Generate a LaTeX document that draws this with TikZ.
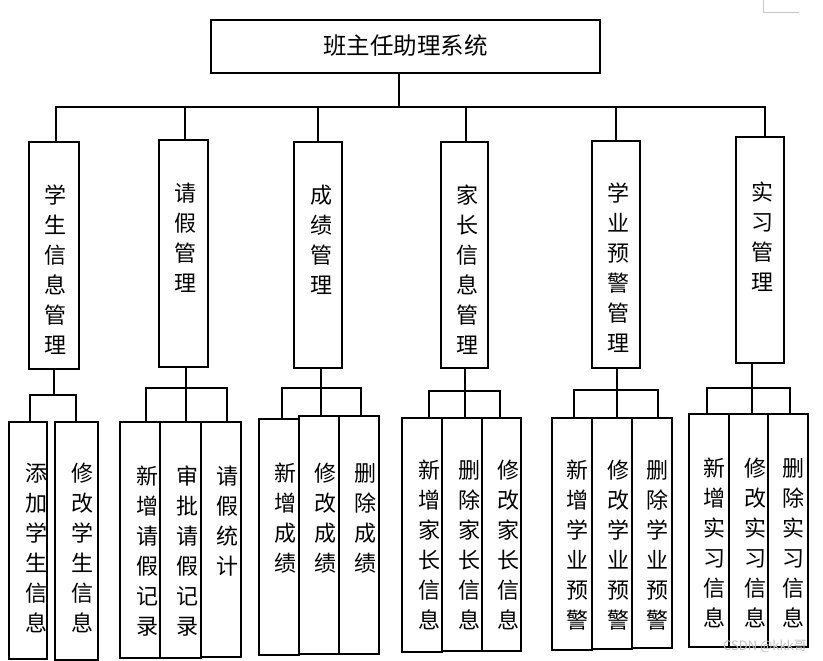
\documentclass[tikz,border=0pt]{standalone}
\usepackage{fontspec}
\newfontfamily\cjk{Noto Sans CJK SC}
\tikzset{
  box/.style={draw, line width=2.6pt, inner sep=0pt},
  conn/.style={line width=2.6pt},
  vt/.style={font=\cjk\fontsize{22}{30}\selectfont, align=center, inner sep=0pt, anchor=north},
  ttl/.style={font=\cjk\fontsize{23.5}{26}\selectfont, inner sep=0pt},
}
\newcommand\bx[5]{\node[box, minimum width=#4pt, minimum height=#5pt] (#1) at (#2,#3) {};}
\begin{document}
\begin{tikzpicture}[x=1pt,y=-1pt]
\fill[white] (0,0) rectangle (823,661);
\useasboundingbox (0,0) rectangle (823,661);
% corner mark
\coordinate (cm1) at (763,0);
\coordinate (cm2) at (763,13);
\coordinate (cm3) at (799,13);
\draw[black!22, line width=1pt] (cm1) -- (cm2) -- (cm3);
% top
\bx{top}{405.5}{46.5}{389}{53}
\node[ttl] (ttltxt) at (405.5,46) {班主任助理系统};
% level 2
\bx{a}{54}{255.5}{50}{227}
\bx{b}{183.5}{253.5}{49}{227}
\bx{c}{318}{255}{48}{226}
\bx{d}{464.5}{255}{47}{226}
\bx{e}{616}{254.5}{48}{227}
\bx{f}{760}{250}{48}{226}
% level 3
\bx{a1}{28}{540.5}{38}{237}
\bx{a2}{76.5}{541}{43}{238}
\bx{b1}{140}{540}{40}{236}
\bx{b2}{180.5}{540}{41}{236}
\bx{b3}{221}{539.5}{40}{235}
\bx{c1}{279}{537}{40}{236}
\bx{c2}{319}{535}{40}{238}
\bx{c3}{359}{535}{40}{238}
\bx{d1}{422}{535}{40}{234}
\bx{d2}{462}{534.5}{40}{233}
\bx{d3}{501.5}{534.5}{39}{233}
\bx{e1}{572}{534}{40}{232}
\bx{e2}{612}{533.5}{40}{231}
\bx{e3}{652}{533}{40}{230}
\bx{f1}{709}{530.5}{40}{233}
\bx{f2}{748.5}{530.5}{39}{233}
\bx{f3}{788}{530.5}{40}{233}
% connectors top -> level 2
\coordinate (hub) at (399,107);
\draw[conn] (top.south -| hub) -- (hub);
\draw[conn] (hub) -| ([xshift=2pt]a.north);
\draw[conn] (hub) -| ([xshift=1.5pt]b.north);
\draw[conn] (hub) -| (c.north);
\draw[conn] (hub) -| ([xshift=1.5pt]d.north);
\draw[conn] (hub) -| (e.north);
\draw[conn] (hub) -| ([xshift=5pt]f.north);
% group hubs
\coordinate (ga) at (54,395);
\coordinate (gb) at (186,388);
\coordinate (gc) at (321,388);
\coordinate (gd) at (465,391);
\coordinate (ge) at (617,390);
\coordinate (gf) at (752,388);
\draw[conn] (a.south -| ga) -- (ga);
\draw[conn] (b.south -| gb) -- (gb);
\draw[conn] (c.south -| gc) -- (gc);
\draw[conn] (d.south -| gd) -- (gd);
\draw[conn] (e.south -| ge) -- (ge);
\draw[conn] (f.south -| gf) -- (gf);
\draw[conn] (ga) -| ([xshift=2pt]a1.north);
\draw[conn] (ga) -| ([xshift=-0.5pt]a2.north);
\draw[conn] (gb) -| ([xshift=6pt]b1.north);
\draw[conn] (gb) -| ([xshift=5.5pt]b2.north);
\draw[conn] (gb) -| ([xshift=6pt]b3.north);
\draw[conn] (gc) -| ([xshift=3pt]c1.north);
\draw[conn] (gc) -| ([xshift=2pt]c2.north);
\draw[conn] (gc) -| ([xshift=2pt]c3.north);
\draw[conn] (gd) -| ([xshift=7pt]d1.north);
\draw[conn] (gd) -| ([xshift=3pt]d2.north);
\draw[conn] (gd) -| ([xshift=-1.5pt]d3.north);
\draw[conn] (ge) -| ([xshift=2pt]e1.north);
\draw[conn] (ge) -| ([xshift=5pt]e2.north);
\draw[conn] (ge) -| ([xshift=6pt]e3.north);
\draw[conn] (gf) -| ([xshift=-2pt]f1.north);
\draw[conn] (gf) -| ([xshift=3.5pt]f2.north);
\draw[conn] (gf) -| ([xshift=2pt]f3.north);
% level 2 texts
\node[vt] (ta) at (56,185) {学\\生\\信\\息\\管\\理};
\node[vt] (tb) at (185,183) {请\\假\\管\\理};
\node[vt] (tc) at (321,185) {成\\绩\\管\\理};
\node[vt] (td) at (467,185) {家\\长\\信\\息\\管\\理};
\node[vt] (te) at (618,183) {学\\业\\预\\警\\管\\理};
\node[vt] (tf) at (762.5,182) {实\\习\\管\\理};
% level 3 texts
\node[vt] (ta1) at (36,463) {添\\加\\学\\生\\信\\息};
\node[vt] (ta2) at (82,463) {修\\改\\学\\生\\信\\息};
\node[vt] (tb1) at (147,466) {新\\增\\请\\假\\记\\录};
\node[vt] (tb2) at (187.5,466) {审\\批\\请\\假\\记\\录};
\node[vt] (tb3) at (227.5,466) {请\\假\\统\\计};
\node[vt] (tc1) at (285,463) {新\\增\\成\\绩};
\node[vt] (tc2) at (325,463) {修\\改\\成\\绩};
\node[vt] (tc3) at (365,463) {删\\除\\成\\绩};
\node[vt] (td1) at (429,460) {新\\增\\家\\长\\信\\息};
\node[vt] (td2) at (469,460) {删\\除\\家\\长\\信\\息};
\node[vt] (td3) at (508,460) {修\\改\\家\\长\\信\\息};
\node[vt] (te1) at (577.5,460) {新\\增\\学\\业\\预\\警};
\node[vt] (te2) at (618,460) {修\\改\\学\\业\\预\\警};
\node[vt] (te3) at (657.5,460) {删\\除\\学\\业\\预\\警};
\node[vt] (tf1) at (714.5,458) {新\\增\\实\\习\\信\\息};
\node[vt] (tf2) at (755,458) {修\\改\\实\\习\\信\\息};
\node[vt] (tf3) at (793,458) {删\\除\\实\\习\\信\\息};
% watermark
\node[font=\cjk\fontsize{13}{13}\selectfont, text=black!25, inner sep=0pt] (wm) at (765,646) {CSDN @kkk哥};
\end{tikzpicture}
\end{document}
